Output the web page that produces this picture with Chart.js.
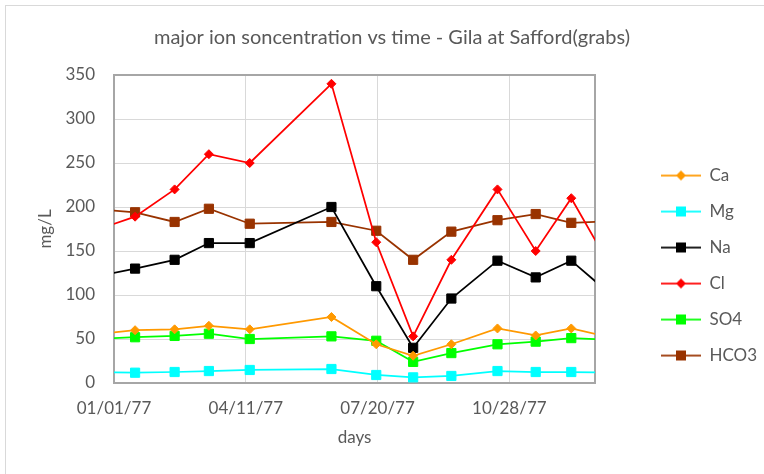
<!DOCTYPE html>
<html lang="en">
<head>
    <meta charset="UTF-8">
    <title>major ion soncentration vs time</title>
    <script src="https://cdn.jsdelivr.net/npm/chart.js"></script>
    <style>
        body {
            margin: 0;
            padding: 0;
            background: #fff;
            overflow: hidden;
        }
        .frame {
            position: absolute;
            left: 5px;
            top: 5px;
            width: 800px;
            height: 500px;
            border: 1px solid #d9d9d9;
        }
        .chart-box {
            position: absolute;
            left: 0;
            top: 0;
            width: 764px;
            height: 474px;
        }
    </style>
</head>
<body>
    <div class="frame"></div>
    <div class="chart-box"><canvas id="ionChart"></canvas></div>

    <script>
        // sample dates (grab samples)
        const sampleDates = ['1976-12-15', '1977-01-17', '1977-02-16', '1977-03-14', '1977-04-14', '1977-06-15',
            '1977-07-19', '1977-08-16', '1977-09-14', '1977-10-19', '1977-11-17', '1977-12-14', '1978-01-15'];

        const ca   = [55, 60, 61, 65, 61, 75, 44, 31, 44, 62, 54, 62, 51];
        const mg   = [12.5, 11.7, 12.5, 13.6, 14.8, 15.9, 9.1, 6.4, 8, 13.6, 12.5, 12.5, 11.8];
        const na   = [120, 130, 140, 159, 159, 200, 110, 40, 96, 139, 120, 139, 98];
        const cl   = [172, 189, 220, 260, 250, 340, 160, 53, 140, 220, 150, 210, 126];
        const so4  = [50, 52, 53.5, 56, 50, 53, 48, 24, 34, 44, 47, 51, 49];
        const hco3 = [198, 194, 183, 198, 181, 183, 173, 140, 172, 185, 192, 182, 184];

        const axisStart = '1977-01-01';
        const axisEnd = '1978-01-01';
        const xTickDates = ['1977-01-01', '1977-04-11', '1977-07-20', '1977-10-28'];

        const DAY = 86400000;
        const t0 = Date.parse(axisStart + 'T00:00:00Z');
        function toDay(s) {
            return Math.round((Date.parse(s + 'T00:00:00Z') - t0) / DAY);
        }
        function fmtDay(d) {
            const iso = new Date(t0 + d * DAY).toISOString();
            return iso.slice(5, 7) + '/' + iso.slice(8, 10) + '/' + iso.slice(2, 4);
        }

        const grey = '#595959';
        Chart.defaults.font.family = 'Lato, "Open Sans", sans-serif';
        Chart.defaults.color = grey;

        // little line+marker swatch for the legend
        function swatch(color, style) {
            const c = document.createElement('canvas');
            c.width = 87;
            c.height = 14;
            const g = c.getContext('2d');
            g.strokeStyle = color;
            g.fillStyle = color;
            g.lineWidth = 1.75;
            g.beginPath();
            g.moveTo(47, 7);
            g.lineTo(87, 7);
            g.stroke();
            g.beginPath();
            if (style === 'rectRot') {
                g.moveTo(67, 2); g.lineTo(72, 7); g.lineTo(67, 12); g.lineTo(62, 7);
            } else {
                g.rect(62, 2, 10, 10);
            }
            g.fill();
            return c;
        }

        function series(label, values, color, style) {
            const diamond = style === 'rectRot';
            return {
                label: label,
                data: values.map((v, i) => ({ x: toDay(sampleDates[i]), y: v })),
                borderColor: color,
                backgroundColor: color,
                borderWidth: 1.75,
                pointStyle: style,
                pointRadius: diamond ? 4.5 : 6.5,
                pointBorderWidth: 1,
                pointBorderColor: color,
                pointBackgroundColor: color,
                tension: 0,
                legendSwatch: swatch(color, style)
            };
        }

        const frame = {
            id: 'plotFrame',
            beforeDatasetsDraw(chart) {
                const a = chart.chartArea;
                const ctx = chart.ctx;
                ctx.save();
                ctx.strokeStyle = '#a6a6a6';
                ctx.lineWidth = 2;
                ctx.strokeRect(a.left, a.top, a.right - a.left, a.bottom - a.top);
                ctx.restore();
            }
        };

        new Chart(document.getElementById('ionChart'), {
            type: 'line',
            data: {
                datasets: [
                    series('Ca', ca, '#FF9900', 'rectRot'),
                    series('Mg', mg, '#00FFFF', 'rect'),
                    series('Na', na, '#000000', 'rect'),
                    series('Cl', cl, '#FF0000', 'rectRot'),
                    series('SO4', so4, '#00FF00', 'rect'),
                    series('HCO3', hco3, '#993300', 'rect')
                ]
            },
            options: {
                responsive: true,
                maintainAspectRatio: false,
                animation: false,
                layout: { padding: { left: 20, right: 0, top: 0, bottom: 0 } },
                plugins: {
                    title: {
                        display: true,
                        text: 'major ion soncentration vs time - Gila at Safford(grabs)',
                        color: grey,
                        font: { size: 20, weight: 'normal' },
                        padding: { top: 26, bottom: 25 }
                    },
                    legend: {
                        position: 'right',
                        align: 'end',
                        fullSize: false,
                        maxWidth: 169,
                        labels: {
                            usePointStyle: true,
                            pointStyleWidth: 87,
                            padding: 19,
                            color: grey,
                            font: { size: 17 },
                            generateLabels(chart) {
                                return chart.data.datasets.map((ds, i) => ({
                                    text: ds.label,
                                    pointStyle: ds.legendSwatch,
                                    fillStyle: ds.borderColor,
                                    strokeStyle: ds.borderColor,
                                    lineWidth: 0,
                                    fontColor: grey,
                                    datasetIndex: i
                                }));
                            }
                        }
                    },
                    tooltip: { enabled: false }
                },
                scales: {
                    x: {
                        type: 'linear',
                        min: toDay(axisStart),
                        max: toDay(axisEnd),
                        afterBuildTicks(scale) {
                            scale.ticks = xTickDates.map(d => ({ value: toDay(d) }));
                        },
                        afterFit(scale) { scale.height = 91; },
                        ticks: {
                            padding: 15,
                            maxRotation: 0,
                            color: grey,
                            font: { size: 17 },
                            callback: v => fmtDay(v)
                        },
                        grid: { color: '#d9d9d9', drawTicks: false },
                        border: { display: false },
                        title: {
                            display: true,
                            text: 'days',
                            color: grey,
                            font: { size: 17 },
                            padding: { top: 0, bottom: 26 }
                        }
                    },
                    y: {
                        min: 0,
                        max: 350,
                        afterFit(scale) { scale.width = 94; },
                        ticks: {
                            stepSize: 50,
                            padding: 19,
                            color: grey,
                            font: { size: 17 }
                        },
                        grid: { color: '#d9d9d9', drawTicks: false },
                        border: { display: false },
                        title: {
                            display: true,
                            text: 'mg/L',
                            color: grey,
                            font: { size: 17 },
                            padding: { top: 15, bottom: 0 }
                        }
                    }
                }
            },
            plugins: [frame]
        });
    </script>
</body>
</html>
